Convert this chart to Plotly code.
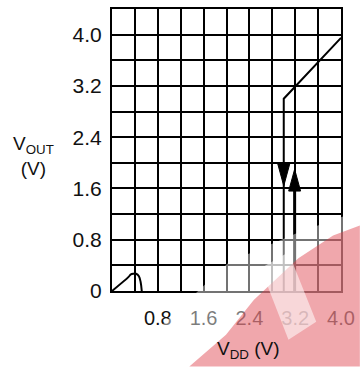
import plotly.graph_objects as go

# Supply-voltage sweep (V) and output voltage (V)
vdd_upper = [4.0, 3.0, 3.0]
vout_upper = [3.95, 3.0, 0.0]

# Rising branch, drawn up to its arrow
vdd_rise = [3.19, 3.19]
vout_rise = [0.0, 1.62]

# Start-up bump near the origin
vdd_start = [0.0, 0.29, 0.33, 0.37, 0.42, 0.47, 0.50, 0.52]
vout_start = [0.0, 0.22, 0.26, 0.27, 0.27, 0.23, 0.14, 0.0]

# Arrow tips: (VDD, VOUT, direction)
arrows = [(3.0, 1.64, -1), (3.19, 1.90, 1)]

x_ticks = [0.8, 1.6, 2.4, 3.2, 4.0]
y_ticks = [0, 0.8, 1.6, 2.4, 3.2, 4.0]

W, H = 362, 367
ML, MR, MT, MB = 112, 19, 7, 76
X_RANGE = [0, 4.0]
Y_RANGE = [0, 4.4]
px_per_x = (W - ML - MR) / (X_RANGE[1] - X_RANGE[0])
px_per_y = (H - MT - MB) / (Y_RANGE[1] - Y_RANGE[0])

fig = go.Figure()
line = dict(color="black", width=2)
fig.add_trace(go.Scatter(x=vdd_upper, y=vout_upper, mode="lines", line=line))
fig.add_trace(go.Scatter(x=vdd_rise, y=vout_rise, mode="lines", line=dict(color="black", width=3)))
fig.add_trace(go.Scatter(x=vdd_start, y=vout_start, mode="lines",
                         line=dict(color="black", width=2, shape="spline")))

# Filled arrowheads, sized in pixels around each tip
half_w, head_h = 6.0, 22.0
for ax_, ay_, d in arrows:
    dx = half_w / px_per_x
    dy = head_h / px_per_y
    fig.add_trace(go.Scatter(
        x=[ax_, ax_ - dx, ax_ + dx, ax_],
        y=[ay_, ay_ - d * dy, ay_ - d * dy, ay_],
        mode="lines", fill="toself", fillcolor="black",
        line=dict(color="black", width=1)))

grid = dict(showgrid=True, gridcolor="black", gridwidth=2,
            showline=True, linecolor="black", linewidth=2, mirror=True,
            zeroline=False, ticks="outside", tickcolor="rgba(0,0,0,0)",
            tickfont=dict(family="Liberation Sans, Arial, sans-serif", size=20, color="#111"))

fig.update_xaxes(range=X_RANGE, tickvals=x_ticks, ticktext=[f"{v:.1f}" for v in x_ticks],
                 ticklen=8, minor=dict(dtick=0.4, tick0=0, showgrid=True,
                                       gridcolor="black", gridwidth=2),
                 **grid)
fig.update_yaxes(range=Y_RANGE, tickvals=y_ticks,
                 ticktext=["0" if v == 0 else f"{v:.1f}" for v in y_ticks],
                 ticklen=4, minor=dict(dtick=0.4, tick0=0, showgrid=True,
                                       gridcolor="black", gridwidth=2),
                 **grid)
fig.update_yaxes(tickfont_size=21)


def to_paper(px, py):
    return (px - ML) / (W - ML - MR), (H - MB - py) / (H - MT - MB)


def path(points):
    pts = [to_paper(*p) for p in points]
    return "M " + " L ".join(f"{x:.4f},{y:.4f}" for x, y in pts) + " Z"


# Faint logo stamped over the lower right corner
wash = [(120, 367), (170, 318), (230, 262), (300, 232), (362, 210), (362, 367)]
band = [(190, 367), (227, 335), (255, 300), (300, 258), (335, 235), (362, 225), (362, 367)]
gap = [(262, 268), (290, 252), (318, 322), (290, 340)]
fig.add_shape(type="path", path=path(wash), xref="paper", yref="paper", layer="above",
              fillcolor="rgba(255,255,255,0.45)", line_width=0)
fig.add_shape(type="path", path=path(band), xref="paper", yref="paper", layer="above",
              fillcolor="rgba(222,60,70,0.45)", line_width=0)
fig.add_shape(type="path", path=path(gap), xref="paper", yref="paper", layer="above",
              fillcolor="rgba(255,255,255,0.55)", line_width=0)

font = dict(family="Liberation Sans, Arial, sans-serif", size=19, color="#111")
lx, ly = to_paper(33, 155)
fig.add_annotation(x=lx, y=ly, xref="paper", yref="paper", showarrow=False,
                   xanchor="center", yanchor="middle",
                   text="V<sub>OUT</sub><br>(V)", font=font, align="center")
tx, ty = to_paper(250, 350)
fig.add_annotation(x=tx, y=ty, xref="paper", yref="paper", showarrow=False,
                   xanchor="center", yanchor="middle",
                   text="V<sub>DD</sub> (V)", font=font)

fig.update_layout(width=W, height=H, margin=dict(l=ML, r=MR, t=MT, b=MB),
                  showlegend=False, plot_bgcolor="white", paper_bgcolor="white")
fig.write_html("out.html")
